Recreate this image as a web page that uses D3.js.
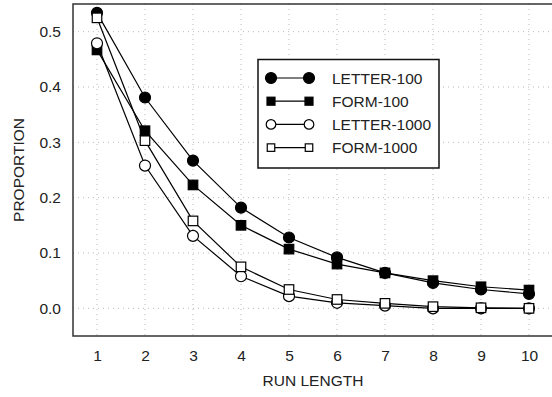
<!DOCTYPE html>
<html lang="en">

<head>
	<meta charset="utf-8">
	<title>Run length</title>
	<script src="https://d3js.org/d3.v7.min.js"></script>
	<style type="text/css">
		body { margin: 0; background: #fff; }
		text { font-family: "Liberation Sans", Arial, sans-serif; fill: #222; }
	</style>
</head>

<body>
	<script type="text/javascript">
		// datos
		var runLength = [1, 2, 3, 4, 5, 6, 7, 8, 9, 10];
		var letter100 = [0.534, 0.381, 0.267, 0.182, 0.128, 0.092, 0.064, 0.046, 0.034, 0.026];
		var form100 = [0.467, 0.321, 0.223, 0.150, 0.107, 0.080, 0.064, 0.050, 0.039, 0.033];
		var letter1000 = [0.479, 0.258, 0.131, 0.058, 0.022, 0.010, 0.005, 0.000, 0.000, 0.000];
		var form1000 = [0.525, 0.303, 0.158, 0.075, 0.034, 0.016, 0.009, 0.003, 0.001, 0.000];
		var seriesNames = ["LETTER-100", "FORM-100", "LETTER-1000", "FORM-1000"];
		var yTicks = [0.0, 0.1, 0.2, 0.3, 0.4, 0.5];

		var w = 552;
		var h = 397;
		var fontSize = "15.5px";

		var series = [
			{ name: seriesNames[0], values: letter100, shape: "circle", filled: true },
			{ name: seriesNames[1], values: form100, shape: "square", filled: true },
			{ name: seriesNames[2], values: letter1000, shape: "circle", filled: false },
			{ name: seriesNames[3], values: form1000, shape: "square", filled: false }
		];

		var x = d3.scaleLinear().domain([0.5, 10.5]).range([73, 553]);
		var y = d3.scaleLinear().domain([-0.05, 0.55]).range([336, 4]);

		var svg = d3.select("body")
			.append("svg")
			.attr("width", w)
			.attr("height", h);

		// rejilla punteada
		svg.append("g").selectAll("line")
			.data(runLength)
			.enter()
			.append("line")
			.attr("x1", function (d) { return x(d); })
			.attr("x2", function (d) { return x(d); })
			.attr("y1", y.range()[1])
			.attr("y2", y.range()[0])
			.attr("stroke", "#b8b8b8")
			.attr("stroke-dasharray", "1,4");

		svg.append("g").selectAll("line")
			.data(yTicks)
			.enter()
			.append("line")
			.attr("x1", x.range()[0])
			.attr("x2", x.range()[1])
			.attr("y1", function (d) { return y(d); })
			.attr("y2", function (d) { return y(d); })
			.attr("stroke", "#b8b8b8")
			.attr("stroke-dasharray", "1,4");

		// ejes sin marcas, solo etiquetas
		var xAxis = svg.append("g")
			.attr("transform", "translate(0,336)")
			.call(d3.axisBottom(x).tickValues(runLength).tickSize(0).tickPadding(14).tickFormat(d3.format("d")));
		var yAxis = svg.append("g")
			.attr("transform", "translate(73,0)")
			.call(d3.axisLeft(y).tickValues(yTicks).tickSize(0).tickPadding(12).tickFormat(d3.format(".1f")));
		[xAxis, yAxis].forEach(function (a) {
			a.select(".domain").remove();
			a.selectAll("text")
				.attr("font-size", fontSize)
				.attr("font-family", "Liberation Sans, Arial, sans-serif")
				.attr("fill", "#222");
		});

		// marco del grafico
		svg.append("rect")
			.attr("x", x.range()[0])
			.attr("y", y.range()[1])
			.attr("width", x.range()[1] - x.range()[0])
			.attr("height", y.range()[0] - y.range()[1])
			.attr("fill", "none")
			.attr("stroke", "#333")
			.attr("stroke-width", 1.5);

		// titulos de ejes
		svg.append("text")
			.attr("x", 313)
			.attr("y", 386)
			.attr("text-anchor", "middle")
			.attr("font-size", fontSize)
			.text("RUN LENGTH");
		svg.append("text")
			.attr("transform", "translate(24,170) rotate(-90)")
			.attr("text-anchor", "middle")
			.attr("font-size", fontSize)
			.text("PROPORTION");

		function drawMarker(g, s, cx, cy, r, side) {
			if (s.shape === "circle") {
				g.append("circle")
					.attr("cx", cx).attr("cy", cy).attr("r", r)
					.attr("fill", s.filled ? "#000" : "#fff")
					.attr("stroke", "#000").attr("stroke-width", 1.2);
			} else {
				g.append("rect")
					.attr("x", cx - side / 2).attr("y", cy - side / 2)
					.attr("width", side).attr("height", side)
					.attr("fill", s.filled ? "#000" : "#fff")
					.attr("stroke", "#000").attr("stroke-width", 1.2);
			}
		}

		var line = d3.line()
			.x(function (d, i) { return x(runLength[i]); })
			.y(function (d) { return y(d); });

		// lineas y marcadores por serie
		series.forEach(function (s) {
			var g = svg.append("g");
			g.append("path")
				.attr("d", line(s.values))
				.attr("fill", "none")
				.attr("stroke", "#000")
				.attr("stroke-width", 1.2);
			s.values.forEach(function (v, i) {
				drawMarker(g, s, x(runLength[i]), y(v), 5.5, 9.5);
			});
		});

		// leyenda
		var legend = svg.append("g");
		legend.append("rect")
			.attr("x", 258)
			.attr("y", 59.5)
			.attr("width", 181)
			.attr("height", 108.5)
			.attr("fill", "#fff")
			.attr("stroke", "#111")
			.attr("stroke-width", 1.5);
		series.forEach(function (s, i) {
			var ly = 78 + i * 23.2;
			legend.append("line")
				.attr("x1", 271).attr("x2", 309)
				.attr("y1", ly).attr("y2", ly)
				.attr("stroke", "#000").attr("stroke-width", 1.2);
			drawMarker(legend, s, 271, ly, s.filled ? 5.5 : 4.8, s.filled ? 8 : 7.5);
			drawMarker(legend, s, 309, ly, s.filled ? 5.5 : 4.8, s.filled ? 8 : 7.5);
			legend.append("text")
				.attr("x", 332)
				.attr("y", ly + 5.5)
				.attr("font-size", fontSize)
				.text(s.name);
		});
	</script>
</body>

</html>
